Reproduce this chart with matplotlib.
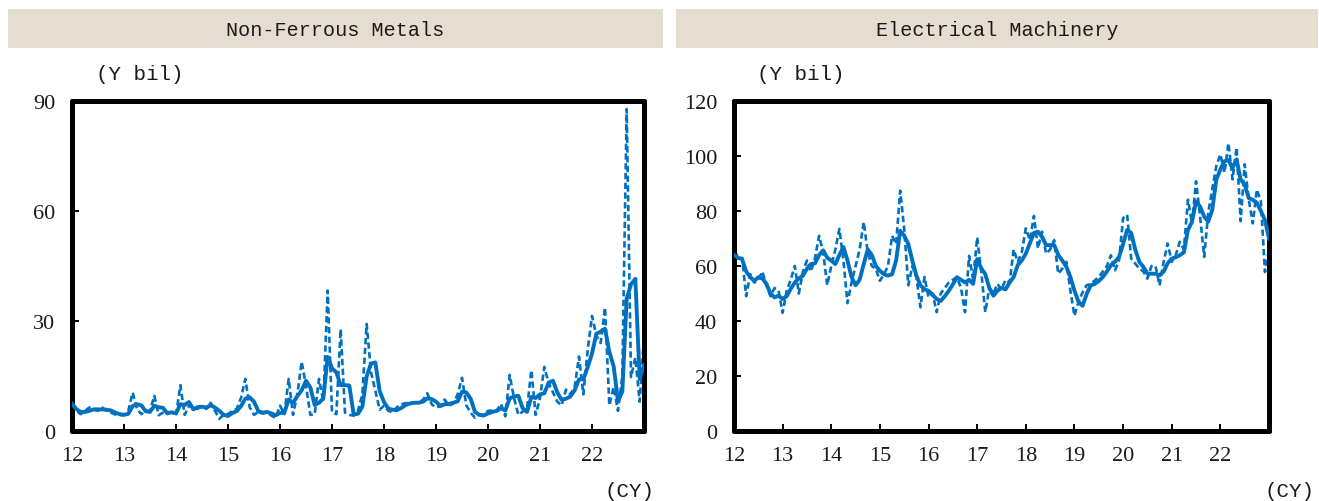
import numpy as np
import matplotlib
matplotlib.use("Agg")
import matplotlib.pyplot as plt
from matplotlib.patches import Rectangle

# ---------------- data (monthly, Jan 2012 - Jan 2023) ----------------
start_year = 2012
years = list(range(2012, 2023))
year_labels = [str(y % 100) for y in years]

nf_monthly = [
    7.4, 5.5, 4.6, 5.5, 6.4, 5.8, 5.5, 6.4, 5.5, 5.0, 4.5, 4.3,
    4.4, 5.5, 10.5, 6.0, 4.6, 5.5, 5.5, 9.6, 4.3, 5.0, 5.2, 5.0,
    4.3, 12.5, 4.4, 6.9, 6.5, 6.0, 7.2, 6.0, 7.7, 5.5, 3.3, 4.5,
    4.6, 5.5, 6.0, 9.0, 14.2, 6.5, 4.4, 5.2, 5.2, 5.1, 4.2, 3.6,
    6.9, 4.6, 14.2, 4.4, 10.0, 18.9, 12.3, 4.4, 4.5, 14.2, 8.0, 38.3,
    5.1, 4.6, 27.8, 5.0, 4.4, 4.2, 5.5, 10.0, 29.2, 16.0, 11.0, 5.8,
    6.9, 5.5, 5.1, 6.5, 7.3, 7.6, 7.6, 7.8, 7.8, 8.5, 10.3, 7.3,
    6.4, 6.8, 8.6, 6.9, 7.5, 10.0, 14.5, 7.0, 5.0, 3.6, 4.5, 4.5,
    5.5, 5.6, 5.5, 7.4, 4.0, 15.3, 9.0, 4.4, 5.3, 6.0, 16.6, 4.4,
    9.0, 17.5, 13.0, 10.5, 8.0, 7.0, 11.3, 10.0, 12.0, 20.3, 10.0, 22.0,
    31.4, 26.0, 24.0, 33.7, 7.0, 12.0, 5.5, 15.0, 87.8, 14.7, 20.0, 8.0,
    26.0,
]
nf_avg = [
    7.4, 6.0, 5.2, 5.2, 5.5, 5.9, 5.9, 5.9, 5.8, 5.6, 5.0, 4.6,
    4.4, 4.7, 6.8, 7.3, 7.0, 5.4, 5.2, 6.9, 6.5, 6.3, 4.8, 5.1,
    4.8, 7.3, 7.1, 7.9, 5.9, 6.5, 6.6, 6.4, 7.0, 6.4, 5.5, 4.4,
    4.1, 4.9, 5.4, 6.8, 8.8, 9.2, 8.0, 5.4, 4.9, 5.2, 4.8, 4.3,
    4.9, 5.0, 8.6, 7.7, 9.5, 11.1, 13.7, 11.9, 7.1, 7.7, 8.9, 20.2,
    17.1, 16.0, 12.5, 12.5, 12.4, 4.5, 4.7, 6.6, 14.9, 18.4, 18.7, 10.9,
    7.9, 6.1, 5.8, 5.7, 6.3, 7.1, 7.5, 7.7, 7.7, 8.0, 8.9, 8.7,
    8.0, 6.8, 7.3, 7.4, 7.7, 8.1, 10.7, 10.5, 8.8, 5.2, 4.4, 4.2,
    4.8, 5.2, 5.5, 6.2, 5.6, 8.9, 9.4, 9.6, 6.2, 5.2, 9.3, 9.0,
    10.0, 10.3, 13.2, 13.7, 10.5, 8.5, 8.8, 9.4, 11.1, 14.1, 14.1, 17.4,
    21.1, 26.5, 27.1, 27.9, 21.6, 17.6, 8.2, 10.8, 36.1, 40.0, 41.5, 14.2,
    18.0,
]

em_monthly = [
    68.0, 62.0, 63.0, 49.0, 57.0, 54.0, 55.0, 58.0, 53.0, 49.0, 52.0, 51.0,
    43.0, 51.0, 55.0, 60.0, 50.0, 58.0, 62.0, 58.0, 63.0, 71.0, 65.0, 53.0,
    60.0, 66.0, 73.5, 62.0, 46.5, 54.0, 60.0, 66.0, 76.0, 65.0, 60.0, 59.0,
    54.6, 57.0, 60.0, 71.0, 68.0, 87.4, 73.5, 53.0, 60.0, 56.0, 45.0, 56.0,
    48.6, 50.0, 43.2, 50.0, 52.0, 54.0, 55.0, 56.0, 52.0, 43.2, 63.7, 55.0,
    70.4, 58.0, 43.2, 52.0, 50.0, 53.5, 51.4, 55.0, 54.0, 66.0, 61.5, 65.0,
    73.7, 69.4, 78.2, 66.4, 72.5, 64.5, 66.0, 69.4, 57.2, 59.0, 61.5, 51.0,
    41.9, 47.0, 50.4, 53.0, 53.5, 54.7, 56.0, 58.0, 60.0, 63.9, 58.4, 62.0,
    77.4, 78.6, 62.7, 60.9, 59.0, 58.0, 55.4, 60.0, 60.0, 52.9, 61.5, 68.2,
    61.5, 64.0, 68.8, 66.0, 84.1, 75.5, 90.8, 78.0, 63.3, 79.2, 88.0, 96.3,
    100.6, 93.9, 104.7, 91.5, 103.1, 76.3, 97.0, 84.1, 75.5, 87.8, 83.5, 57.8,
    66.0,
]
em_avg = [
    64.0, 63.0, 62.5, 58.0, 56.0, 54.6, 55.9, 55.5, 53.5, 50.0, 48.6, 49.2,
    48.0, 49.0, 51.7, 54.0, 55.5, 56.5, 59.0, 60.7, 61.0, 64.0, 65.7, 63.0,
    62.0, 60.7, 64.0, 66.9, 62.0, 56.0, 53.0, 55.0, 60.7, 66.0, 64.0, 60.0,
    58.3, 57.0, 56.5, 57.0, 62.0, 72.8, 71.0, 68.0, 62.0, 56.5, 53.0, 51.5,
    51.0, 49.5, 48.0, 47.3, 49.0, 51.0, 53.3, 55.9, 55.0, 54.0, 55.0, 53.5,
    62.5, 59.2, 57.0, 52.0, 49.2, 51.0, 52.0, 51.5, 54.0, 56.0, 60.3, 62.0,
    64.5, 68.2, 72.0, 72.5, 70.6, 67.6, 67.6, 67.6, 64.0, 62.0, 59.7, 56.0,
    51.0, 47.0, 45.5, 49.8, 52.9, 53.5, 54.5, 56.0, 58.0, 60.3, 61.5, 63.3,
    68.0, 73.1, 72.0, 66.0, 61.5, 59.7, 57.2, 57.2, 57.2, 56.6, 58.0, 61.0,
    62.7, 63.2, 63.9, 65.0, 73.1, 76.1, 83.5, 81.6, 78.0, 76.1, 80.4, 91.4,
    95.1, 98.1, 98.5, 95.7, 98.8, 91.4, 89.6, 84.7, 84.1, 83.0, 80.0, 76.7,
    70.0,
]

titles = ["Non-Ferrous Metals", "Electrical Machinery"]
y_ticks = [[0, 30, 60, 90], [0, 20, 40, 60, 80, 100, 120]]
y_max = [90, 120]

# ---------------- figure ----------------
W, H = 1319, 502
fig = plt.figure(figsize=(W / 100, H / 100), dpi=100)

BLUE = "#0070C0"
HEADER = "#E6DDD1"
TXT = "#1a1a1a"
mono = "Liberation Mono"
serif = "Liberation Serif"


def fx(px):
    return px / W


def fy(py):
    return 1 - py / H


panels = [
    dict(ax=(72, 102, 644, 432), hdr=(8, 10, 663, 49), ybil=(140, 74), cy=(629, 492),
         monthly=nf_monthly, avg=nf_avg),
    dict(ax=(734, 102, 1269, 432), hdr=(676, 10, 1318, 49), ybil=(801, 74), cy=(1289, 492),
         monthly=em_monthly, avg=em_avg),
]

for k, p in enumerate(panels):
    x0, y0, x1, y1 = p["ax"]
    ax = fig.add_axes([fx(x0), fy(y1), fx(x1 - x0), (y1 - y0) / H])
    n = len(p["monthly"])
    xs = start_year + np.arange(n) / 12.0
    ax.plot(xs, p["monthly"], color=BLUE, lw=1.9, ls=(0, (2.4, 1.3)),
            solid_capstyle="butt", dash_capstyle="butt", zorder=2)
    ax.plot(xs, p["avg"], color=BLUE, lw=2.8, solid_joinstyle="round", zorder=3)
    ax.set_xlim(2012, 2023)
    ax.set_ylim(0, y_max[k])
    ax.set_xticks(years)
    ax.set_xticklabels(year_labels)
    ax.set_yticks(y_ticks[k])
    ax.set_yticklabels([str(v) for v in y_ticks[k]])
    for s in ax.spines.values():
        s.set_linewidth(3.6)
        s.set_color("black")
        s.set_capstyle("round")
    ax.tick_params(axis="both", direction="in", length=5, width=1.4, color="black",
                   labelsize=16, labelcolor=TXT)
    ax.tick_params(axis="x", pad=11)
    ax.tick_params(axis="y", pad=12)
    for lab in ax.get_xticklabels() + ax.get_yticklabels():
        lab.set_fontfamily(serif)

    # header bar
    hx0, hy0, hx1, hy1 = p["hdr"]
    fig.patches.append(Rectangle((fx(hx0), fy(hy1)), fx(hx1 - hx0), (hy1 - hy0) / H,
                                 transform=fig.transFigure, facecolor=HEADER,
                                 edgecolor="none", zorder=0))
    fig.text(fx((hx0 + hx1) / 2), fy((hy0 + hy1) / 2 + 1.5), titles[k], ha="center",
             va="center", fontsize=14.5, family=mono, color=TXT)
    # unit labels
    fig.text(fx(p["ybil"][0]), fy(p["ybil"][1]), "(Y bil)", ha="center", va="center",
             fontsize=15, family=mono, color=TXT)
    fig.text(fx(p["cy"][0]), fy(p["cy"][1]), "(CY)", ha="center", va="center",
             fontsize=15, family=mono, color=TXT)

fig.savefig("out.png", dpi=100)
